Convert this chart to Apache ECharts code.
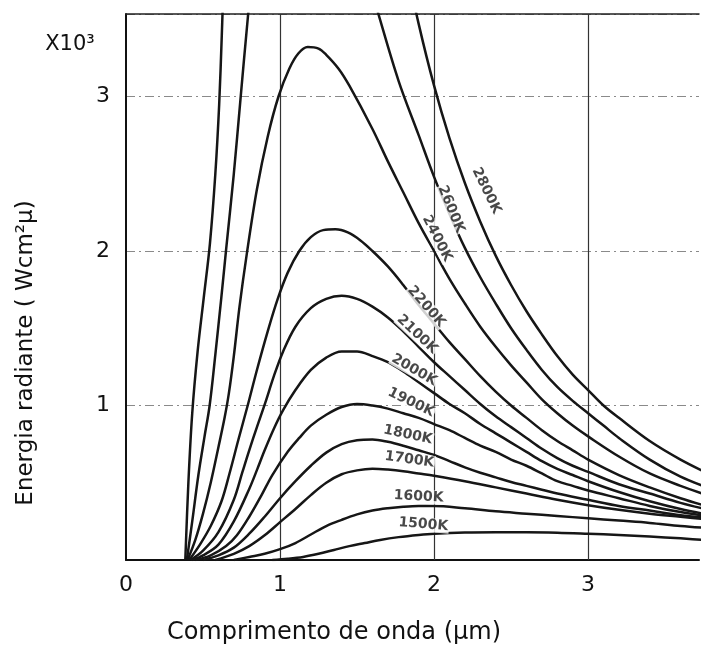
<!DOCTYPE html>
<html><head><meta charset="utf-8">
<script src="https://cdn.jsdelivr.net/npm/echarts@6/dist/echarts.min.js"></script>
<style>html,body{margin:0;padding:0;background:#fff}#c{width:702px;height:648px}</style>
</head><body><div id="c"></div>
<script>
// Spectral radiant emittance curves: wavelength (µm) vs energy (x10^3)
const t2800 = [[0.385,0],[0.405,0.5],[0.43,0.95],[0.465,1.35],[0.505,1.7],[0.545,2.05],[0.58,2.5],[0.605,2.95],[0.622,3.4],[0.64,3.9],[0.68,4.6],[0.75,5.6],[0.85,6.4],[1.0,6.9],[1.15,6.9],[1.3,6.4],[1.45,5.7],[1.6,4.9],[1.7,4.4],[1.8,3.93],[1.9,3.47],[2.0,3.07],[2.1,2.73],[2.2,2.44],[2.3,2.19],[2.4,1.97],[2.5,1.78],[2.6,1.61],[2.7,1.46],[2.8,1.32],[2.9,1.2],[3.0,1.10],[3.1,1.0],[3.2,0.92],[3.4,0.77],[3.6,0.65],[3.8,0.55]];
const t2600 = [[0.395,0],[0.43,0.25],[0.47,0.55],[0.51,0.8],[0.543,1.0],[0.58,1.33],[0.619,1.7],[0.651,2.02],[0.70,2.5],[0.743,2.98],[0.79,3.5],[0.84,4.0],[0.92,4.5],[1.0,4.75],[1.11,4.85],[1.25,4.7],[1.4,4.3],[1.52,3.95],[1.64,3.53],[1.77,3.1],[1.9,2.75],[2.0,2.48],[2.1,2.24],[2.2,2.02],[2.3,1.83],[2.4,1.66],[2.5,1.50],[2.6,1.36],[2.7,1.23],[2.8,1.12],[2.9,1.03],[3.0,0.95],[3.1,0.87],[3.2,0.79],[3.4,0.65],[3.6,0.54],[3.8,0.46]];
const t2400 = [[0.40,0],[0.45,0.13],[0.50,0.3],[0.55,0.5],[0.60,0.73],[0.64,0.92],[0.668,1.08],[0.70,1.32],[0.737,1.64],[0.784,1.98],[0.85,2.4],[0.92,2.74],[0.99,3.0],[1.06,3.18],[1.12,3.28],[1.18,3.32],[1.25,3.31],[1.3,3.27],[1.38,3.18],[1.45,3.07],[1.6,2.79],[1.7,2.58],[1.8,2.38],[1.9,2.18],[2.0,2.0],[2.1,1.82],[2.2,1.66],[2.3,1.51],[2.4,1.38],[2.5,1.26],[2.6,1.15],[2.7,1.04],[2.8,0.95],[2.9,0.87],[3.0,0.80],[3.2,0.67],[3.4,0.56],[3.6,0.48],[3.8,0.41]];
const t2200 = [[0.41,0],[0.48,0.1],[0.55,0.22],[0.62,0.38],[0.672,0.56],[0.73,0.78],[0.79,1.0],[0.85,1.23],[0.92,1.48],[0.985,1.69],[1.05,1.86],[1.125,2.0],[1.2,2.09],[1.28,2.135],[1.36,2.14],[1.44,2.12],[1.52,2.07],[1.6,2.0],[1.7,1.9],[1.8,1.78],[1.9,1.65],[2.0,1.53],[2.1,1.41],[2.2,1.30],[2.3,1.19],[2.4,1.09],[2.5,1.0],[2.6,0.92],[2.7,0.84],[2.8,0.77],[2.9,0.71],[3.0,0.65],[3.2,0.55],[3.4,0.47],[3.6,0.40],[3.8,0.34]];
const t2100 = [[0.42,0],[0.5,0.06],[0.6,0.18],[0.7,0.39],[0.756,0.57],[0.8,0.71],[0.85,0.86],[0.905,1.02],[0.96,1.19],[1.02,1.35],[1.1,1.51],[1.2,1.63],[1.3,1.69],[1.4,1.71],[1.5,1.69],[1.6,1.64],[1.7,1.57],[1.8,1.48],[1.9,1.38],[2.0,1.28],[2.1,1.19],[2.2,1.10],[2.3,1.01],[2.4,0.93],[2.5,0.86],[2.6,0.79],[2.7,0.72],[2.8,0.66],[2.9,0.61],[3.0,0.57],[3.2,0.49],[3.4,0.43],[3.6,0.37],[3.8,0.32]];
const t2000 = [[0.43,0],[0.5,0.03],[0.6,0.1],[0.7,0.25],[0.8,0.46],[0.853,0.59],[0.9,0.71],[0.96,0.85],[1.02,0.97],[1.1,1.10],[1.2,1.23],[1.3,1.31],[1.4,1.35],[1.5,1.35],[1.6,1.32],[1.7,1.28],[1.8,1.22],[1.9,1.15],[2.0,1.08],[2.1,1.01],[2.2,0.95],[2.3,0.88],[2.4,0.82],[2.5,0.76],[2.6,0.70],[2.7,0.64],[2.8,0.59],[2.9,0.55],[3.0,0.51],[3.2,0.44],[3.4,0.38],[3.6,0.33],[3.8,0.29]];
const t1900 = [[0.45,0],[0.55,0.03],[0.65,0.09],[0.72,0.16],[0.8,0.28],[0.88,0.42],[0.95,0.55],[1.05,0.70],[1.125,0.79],[1.2,0.87],[1.3,0.94],[1.4,0.99],[1.5,1.01],[1.6,1.0],[1.7,0.98],[1.8,0.95],[1.9,0.92],[2.0,0.88],[2.1,0.84],[2.2,0.79],[2.3,0.74],[2.4,0.70],[2.5,0.65],[2.6,0.61],[2.7,0.56],[2.8,0.51],[2.9,0.48],[3.0,0.45],[3.2,0.40],[3.4,0.35],[3.6,0.31],[3.8,0.28]];
const t1800 = [[0.50,0],[0.6,0.03],[0.7,0.08],[0.8,0.17],[0.9,0.28],[1.0,0.40],[1.1,0.51],[1.2,0.61],[1.3,0.695],[1.4,0.75],[1.5,0.775],[1.6,0.78],[1.7,0.765],[1.8,0.74],[1.9,0.71],[2.0,0.68],[2.1,0.64],[2.2,0.60],[2.3,0.565],[2.4,0.535],[2.5,0.505],[2.6,0.48],[2.7,0.455],[2.8,0.43],[3.0,0.39],[3.2,0.35],[3.4,0.32],[3.6,0.29],[3.8,0.27]];
const t1700 = [[0.58,0],[0.7,0.04],[0.8,0.09],[0.9,0.16],[1.0,0.245],[1.1,0.33],[1.2,0.42],[1.3,0.50],[1.4,0.555],[1.5,0.58],[1.6,0.59],[1.7,0.585],[1.8,0.575],[1.9,0.56],[2.0,0.545],[2.2,0.51],[2.4,0.47],[2.6,0.43],[2.8,0.39],[3.0,0.355],[3.2,0.325],[3.4,0.30],[3.6,0.28],[3.8,0.26]];
const t1600 = [[0.70,0],[0.8,0.02],[0.9,0.04],[1.0,0.07],[1.1,0.11],[1.2,0.165],[1.3,0.22],[1.4,0.26],[1.5,0.295],[1.6,0.32],[1.7,0.335],[1.8,0.345],[1.9,0.35],[2.0,0.35],[2.2,0.335],[2.4,0.315],[2.6,0.30],[2.8,0.285],[3.0,0.27],[3.2,0.255],[3.4,0.24],[3.6,0.22],[3.8,0.205]];
const t1500 = [[0.95,0],[1.05,0.008],[1.15,0.02],[1.25,0.04],[1.35,0.065],[1.45,0.09],[1.55,0.11],[1.65,0.13],[1.77,0.148],[1.9,0.162],[2.0,0.17],[2.2,0.178],[2.4,0.18],[2.6,0.18],[2.8,0.177],[3.0,0.17],[3.2,0.162],[3.4,0.152],[3.6,0.14],[3.8,0.127]];

const curveNames = ['2800K','2600K','2400K','2200K','2100K','2000K','1900K','1800K','1700K','1600K','1500K'];
const curves = [t2800,t2600,t2400,t2200,t2100,t2000,t1900,t1800,t1700,t1600,t1500];
const labelAt = [[2.34,2.39],[2.11,2.27],[2.02,2.08],[1.95,1.64],[1.89,1.46],[1.87,1.23],[1.85,1.02],[1.83,0.81],[1.84,0.65],[1.90,0.41],[1.93,0.23]];
const labelTilt = [-64,-68,-63,-49,-43,-30,-26,-12,-8,-3,-5];
const xGridAt = [1,2,3];
const xTickLabels = ['0','1','2','3'];
const yTickLabels = ['', '1','2','3'];

const FONT = 'DejaVu Sans';
const chart = echarts.init(document.getElementById('c'), null, {renderer:'canvas'});

const series = curves.map((d,i)=>({
  type:'line', name: curveNames[i], data: d, xAxisIndex:0, yAxisIndex:0,
  smooth:0.35, showSymbol:false, symbol:'none', clip:true,
  lineStyle:{color:'#161616', width:2.5}, z:3, silent:true
}));
series[0].markLine = {
  silent:true, symbol:['none','none'], label:{show:false}, animation:false, z:1,
  lineStyle:{color:'#333', width:1.2, type:'solid'},
  data: xGridAt.map(v=>({xAxis:v}))
};
series.push({
  type:'scatter', xAxisIndex:0, yAxisIndex:0, symbolSize:0, z:5, silent:true,
  data: labelAt.map((p,i)=>({value:p, name:curveNames[i],
    label:{show:true, position:'inside', rotate:labelTilt[i], formatter:'{b}',
      color:'#1a1a1a', fontFamily:FONT, fontSize:14, fontWeight:'bold',
      backgroundColor:'#fff', padding:[0,1]}}))
});

chart.setOption({
  backgroundColor:'#fff',
  animation:false,
  grid:{left:126, right:0, top:14, bottom:88},
  xAxis:[{
    type:'value', min:0, max:3.72, interval:1,
    axisLine:{show:true, lineStyle:{color:'#111', width:2}},
    axisTick:{show:false},
    axisLabel:{show:true, margin:14, color:'#111', fontFamily:FONT, fontSize:22,
      formatter:v=>(Math.abs(v-Math.round(v))<1e-6 ? (xTickLabels[Math.round(v)] ?? '') : '')},
    splitLine:{show:false}
  },{
    type:'value', position:'top', min:0, max:3.72,
    axisLine:{show:true, onZero:false, lineStyle:{color:'#222', width:1.5}},
    axisTick:{show:false}, axisLabel:{show:false}, splitLine:{show:false}
  }],
  yAxis:{
    type:'value', min:0, max:3.534, interval:1,
    axisLine:{show:true, lineStyle:{color:'#111', width:2}},
    axisTick:{show:false},
    axisLabel:{show:true, margin:16, color:'#111', fontFamily:FONT, fontSize:22,
      formatter:v=>(Math.abs(v-Math.round(v))<1e-6 ? (yTickLabels[Math.round(v)] ?? '') : '')},
    splitLine:{show:true, lineStyle:{color:'#8a8a8a', width:1, type:[9,4,2,4]}}
  },
  graphic:[
    {type:'text', x:70, y:45, style:{text:'X10³', fill:'#111', font:'21px "DejaVu Sans"', textAlign:'center', textVerticalAlign:'middle'}},
    {type:'text', x:26, y:353, rotation:Math.PI/2, style:{text:'Energia radiante ( Wcm²µ)', fill:'#111', font:'23px "DejaVu Sans"', textAlign:'center', textVerticalAlign:'middle'}},
    {type:'text', x:334, y:633, style:{text:'Comprimento de onda (µm)', fill:'#111', font:'24px "DejaVu Sans"', textAlign:'center', textVerticalAlign:'middle'}}
  ],
  series: series
});
</script></body></html>
